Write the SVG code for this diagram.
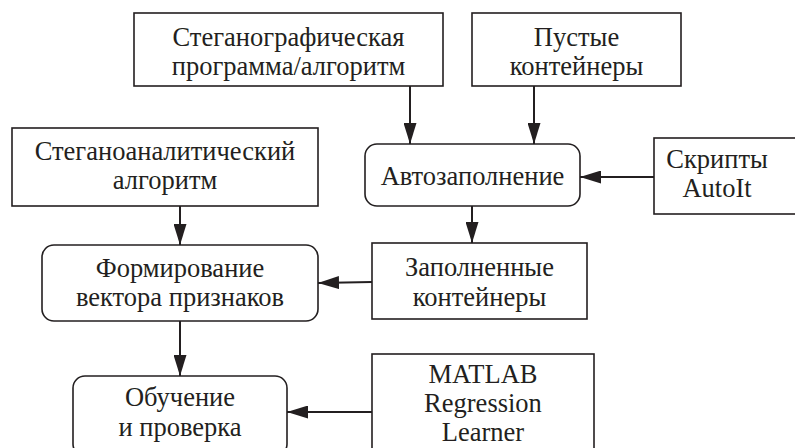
<svg xmlns="http://www.w3.org/2000/svg" width="795" height="448" viewBox="0 0 795 448">
<style>
.box{fill:#fff;stroke:#231f20;stroke-width:1.6}
.t{font-family:"Liberation Serif","Times New Roman",serif;font-size:26.5px;fill:#231f20;text-anchor:middle}
.c{stroke:#231f20;stroke-width:2;fill:none}
</style>
<defs>
<marker id="ah" markerUnits="userSpaceOnUse" markerWidth="21" markerHeight="13" refX="21" refY="6.5" orient="auto">
<path d="M0,0 L21,6.5 L0,13 z" fill="#231f20"/>
</marker>
</defs>
<rect width="795" height="448" fill="#fff"/>
<g id="connectors">
<line class="c" x1="410" y1="86" x2="410" y2="144" marker-end="url(#ah)"/>
<line class="c" x1="534" y1="86" x2="534" y2="144" marker-end="url(#ah)"/>
<line class="c" x1="654" y1="177" x2="580" y2="177" marker-end="url(#ah)"/>
<line class="c" x1="472" y1="206" x2="472" y2="243" marker-end="url(#ah)"/>
<line class="c" x1="180" y1="206" x2="180" y2="245" marker-end="url(#ah)"/>
<line class="c" x1="372" y1="282" x2="318" y2="283" marker-end="url(#ah)"/>
<line class="c" x1="180" y1="321" x2="180" y2="376" marker-end="url(#ah)"/>
<line class="c" x1="372" y1="412" x2="287" y2="412" marker-end="url(#ah)"/>
</g>
<g id="steg-program">
<rect class="box" x="134" y="13" width="309" height="73"/>
<text class="t" x="288.5" y="46">Стеганографическая</text>
<text class="t" x="288.5" y="75">программа/алгоритм</text>
</g>
<g id="empty-containers">
<rect class="box" x="472" y="13" width="209" height="73"/>
<text class="t" x="576.5" y="46">Пустые</text>
<text class="t" x="576.5" y="75">контейнеры</text>
</g>
<g id="steganalysis">
<rect class="box" x="12" y="128" width="306" height="78"/>
<text class="t" x="165" y="160">Стеганоаналитический</text>
<text class="t" x="165" y="189">алгоритм</text>
</g>
<g id="autofill">
<rect class="box" x="365" y="144" width="215" height="62" rx="12"/>
<text class="t" x="472.5" y="185">Автозаполнение</text>
</g>
<g id="autoit">
<rect class="box" x="654" y="138" width="160" height="76"/>
<text class="t" x="717" y="168">Скрипты</text>
<text class="t" x="717" y="197">AutoIt</text>
</g>
<g id="filled-containers">
<rect class="box" x="372" y="243" width="215" height="76"/>
<text class="t" x="479.5" y="276">Заполненные</text>
<text class="t" x="479.5" y="306">контейнеры</text>
</g>
<g id="feature-vector">
<rect class="box" x="42" y="245" width="276" height="76" rx="12"/>
<text class="t" x="180" y="277">Формирование</text>
<text class="t" x="180" y="306">вектора признаков</text>
</g>
<g id="training">
<rect class="box" x="73" y="376" width="214" height="80" rx="12"/>
<text class="t" x="180" y="406">Обучение</text>
<text class="t" x="180" y="436">и проверка</text>
</g>
<g id="matlab">
<rect class="box" x="372" y="354" width="222" height="110"/>
<text class="t" x="483" y="383">MATLAB</text>
<text class="t" x="483" y="412">Regression</text>
<text class="t" x="483" y="441">Learner</text>
</g>
</svg>
